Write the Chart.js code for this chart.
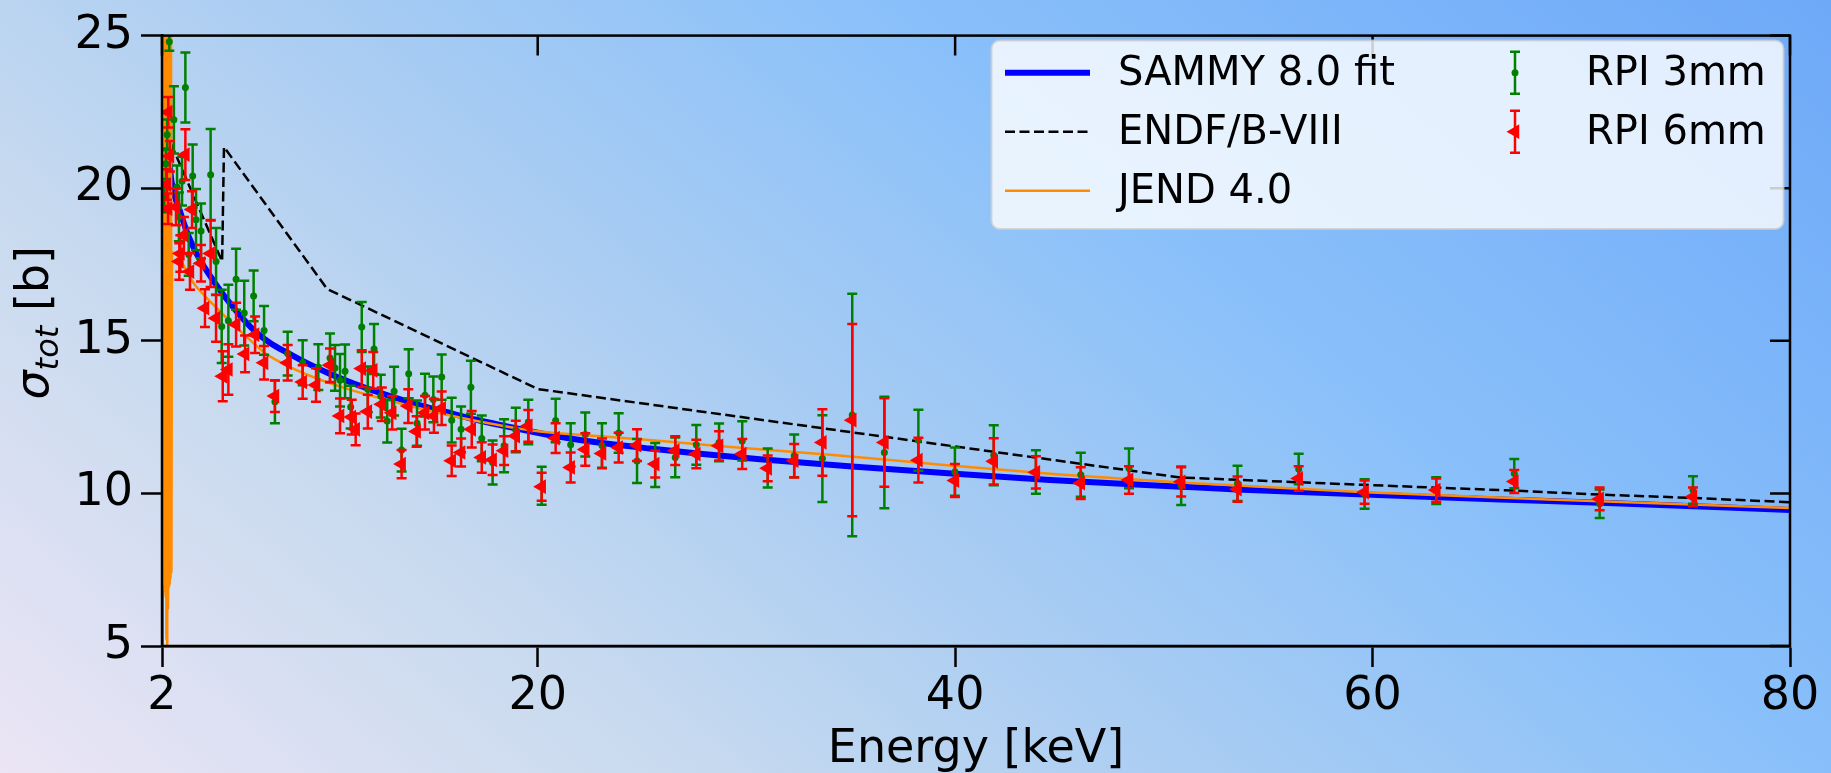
<!DOCTYPE html>
<html>
<head>
<meta charset="utf-8">
<title>Total cross section</title>
<script src="https://cdn.jsdelivr.net/npm/chart.js@4.4.1/dist/chart.umd.min.js"></script>
<style>
  html, body { margin: 0; padding: 0; }
  body {
    width: 1831px; height: 773px; overflow: hidden;
    background: linear-gradient(40deg, #ebe5f5 0%, #c8daef 25%, #a6cbf3 46%, #89c0fa 66%, #6ea9f8 100%);
  }
  canvas { display: block; }
</style>
</head>
<body>
<canvas id="chart" width="1831" height="773"></canvas>
<script>
// axis ticks
const xTicks = [2, 20, 40, 60, 80];
const yTicks = [5, 10, 15, 20, 25];
const xTitle = 'Energy [keV]';

// SAMMY 8.0 fit (keV, barns)
const sammyE = [2.35, 2.46, 2.86, 3.26, 3.66, 4.54, 5.5, 6.46, 7.2, 8.04, 9, 10, 11, 12, 13, 14, 15, 16, 17, 18.43,
                20.83, 22.99, 25.38, 27.78, 30.65, 35.06, 40, 44.54, 50.82, 53.5, 59.63, 66.1, 70.9, 80];
const sammyS = [20.9, 20.2, 19.25, 18.45, 17.85, 16.89, 16.02, 15.31, 14.92, 14.6, 14.25, 13.93, 13.65, 13.4, 13.17, 12.96, 12.77, 12.6, 12.42, 12.21,
                11.88, 11.66, 11.47, 11.3, 11.12, 10.88, 10.64, 10.44, 10.22, 10.13, 9.96, 9.8, 9.69, 9.46];

// ENDF/B-VIII evaluation
const endfE = [2.15, 4.88, 4.97, 9.91, 20.0, 50.8, 59.6, 66.8, 70.9, 75.4, 80];
const endfS = [21.9, 17.6, 21.35, 16.7, 13.42, 10.52, 10.28, 10.09, 9.96, 9.85, 9.71];

// JEND 4.0 evaluation (resolved resonances below ~2.5 keV)
const jendE = [2.05, 2.07, 2.09, 2.11, 2.13, 2.15, 2.17, 2.19, 2.21, 2.23, 2.25, 2.27, 2.29, 2.31, 2.33, 2.35, 2.37, 2.39, 2.41, 2.43, 2.45,
               2.48, 3.58, 4.54, 5.35, 6.12, 6.93, 8.04, 9.33, 11.0, 12.83, 15.8, 18.43, 20.11, 22.99, 25.5, 28.49, 34.15, 40.0, 45.0, 50.82, 59.64, 70.9, 80];
const jendS = [7.4, 26.5, 7.0, 26.5, 6.8, 26.5, 6.6, 26.5, 5.2, 26.5, 4.2, 26.5, 6.2, 26.5, 6.9, 26.5, 7.0, 26.5, 7.2, 26.5, 7.4,
               17.9, 16.83, 16.13, 15.58, 15.09, 14.6, 14.17, 13.79, 13.4, 13.05, 12.55, 12.2, 12.03, 11.87, 11.74, 11.56, 11.26, 10.9, 10.62, 10.36, 10.04, 9.74, 9.52];

// RPI 3mm sample transmission data
const rpi3E = [2.11, 2.19, 2.25, 2.35, 2.57, 2.72, 2.81, 2.96, 3.12, 3.28, 3.47, 3.63, 3.87, 4.33, 4.59, 4.86, 5.18, 5.55, 5.94, 6.39,
               6.89, 7.41, 8.02, 8.74, 9.49, 10.05, 10.29, 10.53, 10.77, 11.04, 11.57, 11.86, 12.16, 12.48, 12.79, 13.12, 13.48, 13.82, 14.22, 14.6,
               15.0, 15.4, 15.88, 16.33, 16.8, 17.32, 17.84, 18.39, 18.95, 19.55, 20.19, 20.86, 21.58, 22.28, 23.08, 23.88, 24.76, 25.63, 26.59, 27.6,
               28.69, 29.8, 31.02, 32.29, 33.64, 35.07, 36.61, 38.24, 39.99, 41.85, 43.87, 46.02, 48.33, 50.83, 53.53, 56.46, 59.62, 63.05, 66.79, 70.88, 75.35];
const rpi3S = [19.71, 20.8, 21.75, 24.8, 22.24, 20.04, 19.06, 20.23, 23.3, 17.83, 20.4, 18.97, 18.6, 20.44, 17.6, 15.47, 15.66, 17.02, 15.91, 16.47,
               15.34, 13.0, 14.58, 14.28, 14.14, 14.44, 14.11, 13.71, 14.0, 12.83, 15.45, 13.41, 14.73, 13.19, 12.37, 13.35, 11.42, 13.92, 12.3, 13.22,
               13.08, 13.81, 12.4, 12.1, 13.48, 11.8, 11.01, 11.56, 12.08, 12.34, 10.25, 12.39, 11.59, 11.93, 11.57, 11.98, 11.06, 10.93, 11.18, 11.59,
               11.67, 11.72, 10.83, 11.23, 11.14, 12.57, 11.34, 11.74, 10.71, 11.25, 10.7, 10.61, 10.82, 10.25, 10.33, 10.8, 9.98, 10.09, 10.65, 9.66, 10.11];
const rpi3Err = [0.5, 0.5, 0.5, 0.3, 1.1, 0.7, 0.8, 0.8, 1.15, 0.7, 1.03, 1.0, 0.9, 1.5, 1.1, 1.2, 1.18, 1.0, 1.06, 0.83,
                 0.8, 0.7, 0.72, 0.74, 0.75, 0.8, 0.75, 0.86, 0.88, 0.7, 0.82, 0.75, 0.82, 0.7, 0.7, 0.8, 0.7, 0.8, 0.74, 0.7,
                 0.75, 0.74, 0.73, 0.75, 0.87, 0.75, 0.72, 0.87, 0.73, 0.73, 0.62, 0.71, 0.71, 0.72, 0.73, 0.65, 0.72, 0.72, 0.65, 0.65,
                 0.62, 0.64, 0.64, 0.7, 1.42, 3.97, 1.83, 1.0, 0.79, 0.98, 0.71, 0.72, 0.65, 0.63, 0.58, 0.5, 0.48, 0.44, 0.48, 0.47, 0.45];

// RPI 6mm sample transmission data
const rpi6E = [2.23, 2.29, 2.3, 2.38, 2.67, 2.83, 2.88, 3.05, 3.12, 3.34, 3.44, 3.87, 4.06, 4.33, 4.59, 4.91, 5.18, 5.55, 5.98, 6.46,
               6.89, 7.41, 8.02, 8.74, 9.38, 10.05, 10.53, 11.09, 11.28, 11.57, 11.86, 12.12, 12.53, 13.03, 13.48, 13.8, 14.2, 14.6, 15.03, 15.4,
               15.88, 16.33, 16.84, 17.32, 17.84, 18.39, 18.95, 19.55, 20.19, 20.86, 21.58, 22.28, 23.08, 23.88, 24.76, 25.63, 26.59, 27.6, 28.69, 29.8,
               31.02, 32.29, 33.64, 35.07, 36.61, 38.24, 39.99, 41.85, 43.87, 46.02, 48.33, 50.83, 53.53, 56.46, 59.62, 63.05, 66.79, 70.88, 75.35];
const rpi6S = [20.12, 19.33, 22.49, 21.05, 19.39, 17.6, 17.86, 18.46, 21.1, 17.27, 19.3, 17.54, 16.07, 17.86, 15.74, 13.84, 14.06, 15.53, 14.57, 15.2,
               14.28, 13.19, 14.28, 13.65, 13.55, 14.2, 12.54, 12.5, 12.1, 14.09, 12.68, 14.03, 12.92, 12.64, 10.96, 12.86, 12.03, 12.64, 12.54, 12.79,
               11.07, 11.34, 12.1, 11.18, 11.1, 11.4, 11.88, 12.21, 10.22, 11.81, 10.85, 11.44, 11.31, 11.5, 11.58, 10.96, 11.4, 11.29, 11.56, 11.29,
               10.82, 11.07, 11.67, 12.4, 11.67, 11.09, 10.42, 11.05, 10.69, 10.34, 10.44, 10.38, 10.14, 10.49, 10.04, 10.11, 10.39, 9.82, 9.89];
const rpi6Err = [0.5, 0.5, 0.5, 0.5, 0.6, 0.6, 0.6, 0.6, 0.83, 0.6, 0.6, 0.6, 0.62, 1.1, 0.77, 0.82, 0.83, 0.72, 0.6, 0.6,
                 0.55, 0.52, 0.58, 0.55, 0.55, 0.55, 0.57, 0.57, 0.52, 0.6, 0.55, 0.6, 0.55, 0.55, 0.46, 0.55, 0.5, 0.55, 0.55, 0.55,
                 0.5, 0.46, 0.6, 0.5, 0.5, 0.47, 0.5, 0.52, 0.46, 0.49, 0.49, 0.53, 0.49, 0.49, 0.52, 0.44, 0.47, 0.47, 0.48, 0.49,
                 0.42, 0.55, 1.09, 3.15, 1.45, 0.73, 0.54, 0.76, 0.53, 0.52, 0.45, 0.48, 0.41, 0.4, 0.38, 0.38, 0.38, 0.37, 0.3];

const FONT = 'DejaVu Sans';
Chart.defaults.font.family = FONT;
Chart.defaults.color = '#000';

const pts = (xs, ys) => xs.map((x, i) => ({ x: x, y: ys[i] }));

// draws vertical error bars with caps for datasets that carry an `errors` array
const errorBars = {
  id: 'errorBars',
  beforeDatasetDraw(chart, args) {
    const ds = chart.data.datasets[args.index];
    if (!ds.errors) return;
    const { ctx, chartArea: a, scales: { x, y } } = chart;
    ctx.save();
    ctx.beginPath();
    ctx.rect(a.left, a.top, a.right - a.left, a.bottom - a.top);
    ctx.clip();
    ctx.strokeStyle = ds.pointBackgroundColor;
    ctx.lineWidth = 2.5;
    ds.data.forEach((p, i) => {
      const px = x.getPixelForValue(p.x);
      const top = y.getPixelForValue(p.y + ds.errors[i]);
      const bot = y.getPixelForValue(p.y - ds.errors[i]);
      ctx.beginPath();
      ctx.moveTo(px, top); ctx.lineTo(px, bot);
      ctx.moveTo(px - 5, top); ctx.lineTo(px + 5, top);
      ctx.moveTo(px - 5, bot); ctx.lineTo(px + 5, bot);
      ctx.stroke();
    });
    ctx.restore();
  }
};

// box spines on top of the data, inward ticks on the top and right sides
const frame = {
  id: 'frame',
  afterDatasetsDraw(chart) {
    const { ctx, chartArea: a, scales: { x, y } } = chart;
    ctx.save();
    ctx.strokeStyle = '#000';
    ctx.lineWidth = 2.5;
    ctx.beginPath();
    xTicks.forEach(v => {
      const px = x.getPixelForValue(v);
      ctx.moveTo(px, a.top); ctx.lineTo(px, a.top + 20);
    });
    yTicks.forEach(v => {
      const py = y.getPixelForValue(v);
      ctx.moveTo(a.right, py); ctx.lineTo(a.right - 20, py);
    });
    ctx.stroke();
    ctx.strokeRect(a.left, a.top, a.right - a.left, a.bottom - a.top);
    ctx.restore();
  }
};

function drawMarker(ctx, ds, x, y) {
  ctx.fillStyle = ds.pointBackgroundColor;
  ctx.beginPath();
  if (ds.pointStyle === 'triangle') {
    let rad = ds.pointRotation * Math.PI / 180;
    const r = ds.pointRadius;
    ctx.moveTo(x + Math.sin(rad) * r, y - Math.cos(rad) * r);
    rad += 2 * Math.PI / 3;
    ctx.lineTo(x + Math.sin(rad) * r, y - Math.cos(rad) * r);
    rad += 2 * Math.PI / 3;
    ctx.lineTo(x + Math.sin(rad) * r, y - Math.cos(rad) * r);
    ctx.closePath();
  } else {
    ctx.arc(x, y, ds.pointRadius, 0, 2 * Math.PI);
  }
  ctx.fill();
}

const titlesAndLegend = {
  id: 'titlesAndLegend',
  afterDraw(chart) {
    const { ctx, chartArea: a } = chart;
    const ds = chart.data.datasets;

    // axis titles
    ctx.save();
    ctx.fillStyle = '#000';
    ctx.textBaseline = 'alphabetic';
    ctx.textAlign = 'center';
    ctx.font = '46px "' + FONT + '"';
    ctx.fillText(xTitle, (a.left + a.right) / 2, 762);

    ctx.translate(48, (a.top + a.bottom) / 2 - 18);
    ctx.rotate(-Math.PI / 2);
    ctx.textAlign = 'left';
    const big = 'italic 46px "' + FONT + '"';
    const small = 'italic 32px "' + FONT + '"';
    const plain = '46px "' + FONT + '"';
    ctx.font = big; const w1 = ctx.measureText('σ').width;
    ctx.font = small; const w2 = ctx.measureText('tot').width;
    ctx.font = plain; const w3 = ctx.measureText(' [b]').width;
    let cx = -(w1 + w2 + w3) / 2;
    ctx.font = big; ctx.fillText('σ', cx, 0); cx += w1;
    ctx.font = small; ctx.fillText('tot', cx, 10); cx += w2;
    ctx.font = plain; ctx.fillText(' [b]', cx, 0);
    ctx.restore();

    // legend: lines in the first column, error bar series in the second
    const box = { x: 991.5, y: 40.5, w: 792, h: 188.5 };
    const rows = [72.7, 131.7, 190.7];
    ctx.save();
    ctx.beginPath();
    ctx.roundRect(box.x, box.y, box.w, box.h, 8);
    ctx.fillStyle = 'rgba(255,255,255,0.8)';
    ctx.fill();
    ctx.strokeStyle = 'rgba(204,204,204,0.8)';
    ctx.lineWidth = 2;
    ctx.stroke();

    ctx.font = '40px "' + FONT + '"';
    ctx.textBaseline = 'middle';
    ctx.textAlign = 'left';
    const lines = ds.filter(d => d.showLine);
    const bars = ds.filter(d => d.errors);
    lines.forEach((d, i) => {
      const yy = rows[i];
      ctx.save();
      ctx.strokeStyle = d.borderColor;
      ctx.lineWidth = d.borderWidth;
      ctx.setLineDash(d.borderDash || []);
      ctx.beginPath();
      ctx.moveTo(1005, yy); ctx.lineTo(1090, yy);
      ctx.stroke();
      ctx.restore();
      ctx.fillStyle = '#000';
      ctx.fillText(d.label, 1118, yy + 2);
    });
    bars.forEach((d, i) => {
      const yy = rows[i];
      const hx = 1515;
      ctx.strokeStyle = d.pointBackgroundColor;
      ctx.lineWidth = 2.5;
      ctx.beginPath();
      ctx.moveTo(hx, yy - 21); ctx.lineTo(hx, yy + 21);
      ctx.moveTo(hx - 5, yy - 21); ctx.lineTo(hx + 5, yy - 21);
      ctx.moveTo(hx - 5, yy + 21); ctx.lineTo(hx + 5, yy + 21);
      ctx.stroke();
      drawMarker(ctx, d, hx, yy);
      ctx.fillStyle = '#000';
      ctx.fillText(d.label, 1586, yy + 2);
    });
    ctx.restore();
  }
};

new Chart(document.getElementById('chart'), {
  type: 'scatter',
  data: {
    datasets: [
      {
        label: 'SAMMY 8.0 fit', data: pts(sammyE, sammyS), showLine: true,
        borderColor: '#0000ff', borderWidth: 6, pointRadius: 0,
        cubicInterpolationMode: 'monotone', clip: 0, order: 5
      },
      {
        label: 'ENDF/B-VIII', data: pts(endfE, endfS), showLine: true,
        borderColor: '#000000', borderWidth: 2.5, borderDash: [10, 4.5], pointRadius: 0,
        tension: 0, clip: 0, order: 4
      },
      {
        label: 'JEND 4.0', data: pts(jendE, jendS), showLine: true,
        borderColor: '#ff8c00', borderWidth: 2.5, pointRadius: 0,
        cubicInterpolationMode: 'monotone', clip: 0, order: 3
      },
      {
        label: 'RPI 3mm', data: pts(rpi3E, rpi3S), errors: rpi3Err, showLine: false,
        pointStyle: 'circle', pointRadius: 3.5, pointRotation: 0,
        pointBackgroundColor: '#008000', pointBorderColor: '#008000', pointBorderWidth: 0,
        clip: 0, order: 2
      },
      {
        label: 'RPI 6mm', data: pts(rpi6E, rpi6S), errors: rpi6Err, showLine: false,
        pointStyle: 'triangle', pointRadius: 8.5, pointRotation: -90,
        pointBackgroundColor: '#ff0000', pointBorderColor: '#ff0000', pointBorderWidth: 0,
        clip: 0, order: 1
      }
    ]
  },
  options: {
    responsive: false,
    devicePixelRatio: 1,
    animation: false,
    events: [],
    layout: { padding: { top: 33, right: 41, left: 0, bottom: 0 } },
    plugins: { legend: { display: false }, tooltip: { enabled: false } },
    scales: {
      x: {
        type: 'linear', min: 2, max: 80,
        afterBuildTicks: scale => { scale.ticks = xTicks.map(v => ({ value: v })); },
        afterFit: scale => { scale.height = 127; },
        ticks: { font: { size: 46 }, color: '#000', padding: 2, autoSkip: false, maxRotation: 0 },
        grid: { drawOnChartArea: false, drawTicks: true, tickLength: 21, tickWidth: 2.5, tickColor: '#000' },
        border: { display: true, color: '#000', width: 2.5 }
      },
      y: {
        type: 'linear', min: 5, max: 25,
        afterBuildTicks: scale => { scale.ticks = yTicks.map(v => ({ value: v })); },
        afterFit: scale => { scale.width = 162; },
        ticks: { font: { size: 46 }, color: '#000', padding: 8 },
        grid: { drawOnChartArea: false, drawTicks: true, tickLength: 21, tickWidth: 2.5, tickColor: '#000' },
        border: { display: true, color: '#000', width: 2.5 }
      }
    }
  },
  plugins: [errorBars, frame, titlesAndLegend]
});
</script>
</body>
</html>
